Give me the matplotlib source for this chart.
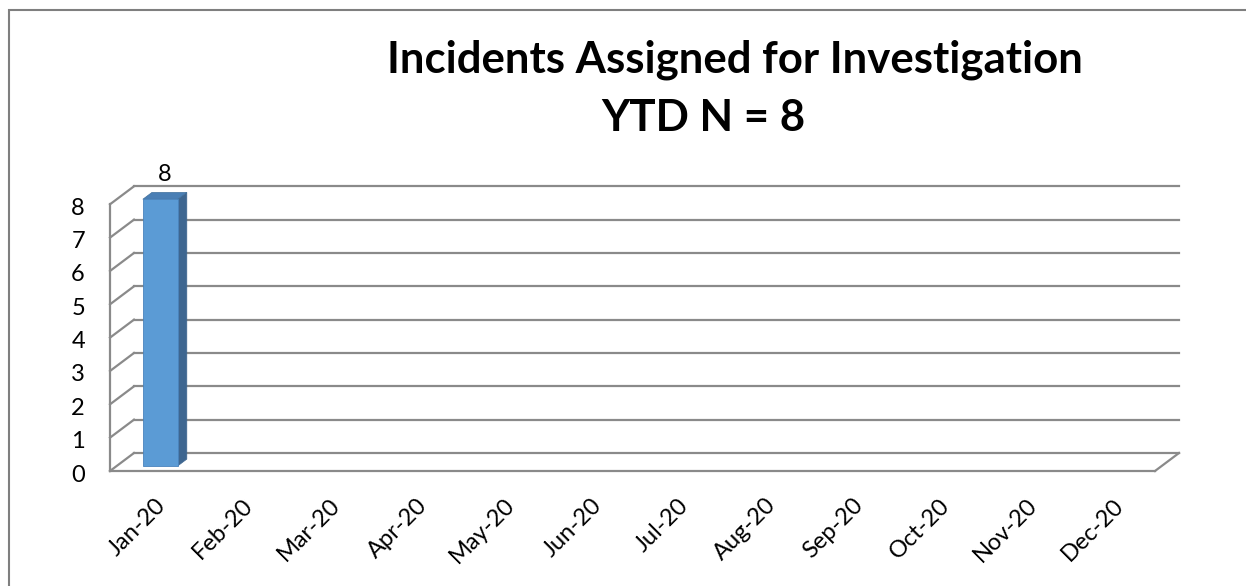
import matplotlib
matplotlib.use("Agg")
import matplotlib.pyplot as plt
from matplotlib.transforms import ScaledTranslation
from matplotlib.patches import Polygon, Rectangle

months = ["Jan-20", "Feb-20", "Mar-20", "Apr-20", "May-20", "Jun-20",
          "Jul-20", "Aug-20", "Sep-20", "Oct-20", "Nov-20", "Dec-20"]
incidents = [8, 0, 0, 0, 0, 0, 0, 0, 0, 0, 0, 0]
y_ticks = [0, 1, 2, 3, 4, 5, 6, 7, 8]
title_line1 = "Incidents Assigned for Investigation"
title_line2 = "YTD N = 8"

W, H, DPI = 1246, 586, 100
fig = plt.figure(figsize=(W / DPI, H / DPI), dpi=DPI)
plt.rcParams['font.family'] = ['Lato', 'DejaVu Sans']

# front plane of the 3-D box
left, right, y0, y8 = 110, 1155, 471, 204.3
ax = fig.add_axes([left / W, (H - y0) / H, (right - left) / W, (y0 - y8) / H])
ax.set_xlim(-0.5, len(months) - 0.5)
ax.set_ylim(0, 8)
for s in ax.spines.values():
    s.set_visible(False)

DEPTH_X, DEPTH_Y = 24, 18  # pixels

def shift(frac):
    return ax.transData + ScaledTranslation(DEPTH_X * frac / DPI, DEPTH_Y * frac / DPI, fig.dpi_scale_trans)

back = shift(1.0)
gcol = '#8a8a8a'
lw = 1.6
n = len(months)
# back wall gridlines
for v in y_ticks:
    ax.plot([-0.5, n - 0.5], [v, v], color=gcol, lw=lw, transform=back, clip_on=False, zorder=1)
# diagonals on left wall
for v in y_ticks:
    p_front = ax.transData.transform((-0.5, v))
    p_back = back.transform((-0.5, v))
    ax.plot([p_front[0], p_back[0]], [p_front[1], p_back[1]], color=gcol, lw=lw,
            transform=None, clip_on=False, zorder=1)
# left front vertical edge
ax.plot([-0.5, -0.5], [0, 8], color=gcol, lw=lw, clip_on=False, zorder=1)
# floor front edge and right diagonal
ax.plot([-0.5, n - 0.5], [0, 0], color=gcol, lw=lw, clip_on=False, zorder=1)
pf = ax.transData.transform((n - 0.5, 0))
pb = back.transform((n - 0.5, 0))
ax.plot([pf[0], pb[0]], [pf[1], pb[1]], color=gcol, lw=lw, transform=None, clip_on=False, zorder=1)

# bars
d0, d1 = 0.28, 0.66
bw = 0.2
front_c, side_c, top_c = '#5B9BD5', '#3E6690', '#4A7FB5'
for i, v in enumerate(incidents):
    if v <= 0:
        continue
    tf = shift(d0)
    tb = shift(d1)
    fl = tf.transform((i - bw, 0)); fr = tf.transform((i + bw, 0))
    ftl = tf.transform((i - bw, v)); ftr = tf.transform((i + bw, v))
    bl = tb.transform((i - bw, v)); br = tb.transform((i + bw, v)); bbr = tb.transform((i + bw, 0))
    side = Polygon([fr, bbr, br, ftr], closed=True, facecolor=side_c, edgecolor=side_c,
                   lw=0.5, transform=None, zorder=3)
    top = Polygon([ftl, ftr, br, bl], closed=True, facecolor=top_c, edgecolor='#41719C',
                  lw=0.5, transform=None, zorder=3)
    front = Polygon([fl, fr, ftr, ftl], closed=True, facecolor=front_c, edgecolor='#4a84bd',
                    lw=0.6, transform=None, zorder=4)
    for p in (side, top, front):
        fig.add_artist(p)
    ax.text(i, v, str(v), transform=shift((d0 + d1) / 2) + ScaledTranslation(0, 11 / DPI, fig.dpi_scale_trans),
            ha='center', va='bottom', fontsize=17, color='black')

# ticks
ax.set_yticks(y_ticks)
ax.set_yticklabels([str(t) for t in y_ticks], fontsize=17)
ax.tick_params(axis='y', length=0, pad=18)
for lab in ax.get_yticklabels():
    lab.set_transform(lab.get_transform() + ScaledTranslation(0, -2 / DPI, fig.dpi_scale_trans))
ax.set_xticks(range(n))
ax.set_xticklabels(months, fontsize=17, rotation=45, ha='right', va='center', rotation_mode='anchor')
ax.tick_params(axis='x', length=0, pad=0)
for lab in ax.get_xticklabels():
    lab.set_transform(lab.get_transform() + ScaledTranslation(9 / DPI, -31 / DPI, fig.dpi_scale_trans))

# titles
fig.text(734.5 / W, 1 - 59.5 / H, title_line1, ha='center', va='center', fontsize=31.5, fontweight='bold')
fig.text(703.5 / W, 1 - 118 / H, title_line2, ha='center', va='center', fontsize=31.5, fontweight='bold')

# outer border (top and left visible)
fig.add_artist(Rectangle((9 / W, -0.1), 1.2, 1 - 10 / H + 0.1, transform=fig.transFigure,
                         fill=False, edgecolor='#7f7f7f', lw=1.5))

fig.savefig('out.png', dpi=DPI)
